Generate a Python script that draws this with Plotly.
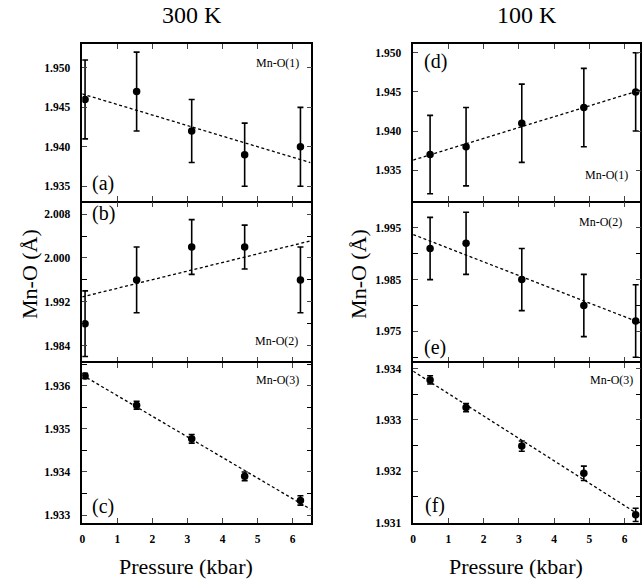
import plotly.graph_objects as go

W, H = 642, 584

# ---------------- data ----------------
pressure_300 = [0.08, 1.55, 3.12, 4.63, 6.22]
pressure_100 = [0.48, 1.50, 3.08, 4.84, 6.31]

mno1_300 = [1.946, 1.947, 1.942, 1.939, 1.940]
mno1_300_err = [0.005, 0.005, 0.004, 0.004, 0.005]
mno2_300 = [1.988, 1.996, 2.002, 2.002, 1.996]
mno2_300_err = [0.006, 0.006, 0.005, 0.004, 0.006]
mno3_300 = [1.93623, 1.93555, 1.93477, 1.93390, 1.93334]
mno3_300_err = [0.00006, 0.00009, 0.00010, 0.00010, 0.00011]

mno1_100 = [1.937, 1.938, 1.941, 1.943, 1.945]
mno1_100_err = [0.005, 0.005, 0.005, 0.005, 0.005]
mno2_100 = [1.991, 1.992, 1.985, 1.980, 1.977]
mno2_100_err = [0.006, 0.006, 0.006, 0.006, 0.007]
mno3_100 = [1.93378, 1.93324, 1.93249, 1.93196, 1.93115]
mno3_100_err = [0.00008, 0.00008, 0.00010, 0.00014, 0.00013]

# linear fits: values at fit_p endpoints
fit_p = [0.0, 6.5]
fit1_300 = [1.9467, 1.9380]
fit2_300 = [1.9929, 2.0031]
fit3_300 = [1.93625, 1.93314]
fit1_100 = [1.9363, 1.9453]
fit2_100 = [1.9937, 1.9765]
fit3_100 = [1.93395, 1.93111]

panel_letters = ["(a)", "(b)", "(c)", "(d)", "(e)", "(f)"]
bond_names = ["Mn-O(1)", "Mn-O(2)", "Mn-O(3)", "Mn-O(1)", "Mn-O(2)", "Mn-O(3)"]
column_titles = ["300 K", "100 K"]
x_title = "Pressure (kbar)"
y_title = "Mn-O (Å)"

# ---------------- layout helpers ----------------
FONT = "Liberation Serif"
LW = 1.5

def px_x(x):
    return x / W

def px_y(y):
    return 1 - y / H

panels = [
    (pressure_300, mno1_300, mno1_300_err, fit1_300, [1.9331, 1.9530], 0.005, None, 1.935),
    (pressure_300, mno2_300, mno2_300_err, fit2_300, [1.9811, 2.0101], 0.008, 0.004, 1.984),
    (pressure_300, mno3_300, mno3_300_err, fit3_300, [1.93282, 1.93653], 0.001, 0.0005, 1.933),
    (pressure_100, mno1_100, mno1_100_err, fit1_100, [1.93105, 1.95108], 0.005, None, 1.935),
    (pressure_100, mno2_100, mno2_100_err, fit2_100, [1.96919, 1.99985], 0.010, 0.005, 1.975),
    (pressure_100, mno3_100, mno3_100_err, fit3_100, [1.930995, 1.93411], 0.001, 0.0005, 1.931),
]

xdom_px = [(79, 311), (412, 642)]
xrange_cols = [[0, 6.53], [0, 6.44]]
# frame-line centres at 44, 204, 366, 529; axis lines are drawn outside the domain
g = LW / 2
ydom_px = [(44 + g, 204 - g), (204 + g, 366 - g), (366 + g, 529 - g)]

fig = go.Figure()
layout = dict(
    width=W, height=H, autosize=False,
    margin=dict(l=0, r=0, t=0, b=0),
    paper_bgcolor="white", plot_bgcolor="white",
    showlegend=False,
    font=dict(family=FONT, color="black", size=12),
)

tick_font = dict(family=FONT, size=11.5, color="black", weight="bold")

for i, (px_, vals, errs, fit, yr, dt, mn, t0) in enumerate(panels):
    col = i // 3
    row = i % 3
    k = i + 1
    xa = "x" if k == 1 else f"x{k}"
    ya = "y" if k == 1 else f"y{k}"
    fig.add_trace(go.Scatter(
        x=fit_p, y=fit, mode="lines", xaxis=xa, yaxis=ya,
        line=dict(color="black", width=1.3, dash="3px,2.5px"),
        hoverinfo="skip",
    ))
    fig.add_trace(go.Scatter(
        x=px_, y=vals, mode="markers", xaxis=xa, yaxis=ya,
        marker=dict(color="black", size=7.5),
        error_y=dict(type="data", array=errs, visible=True, color="black",
                     thickness=1.6, width=3),
    ))
    x0, x1 = xdom_px[col]
    y0, y1 = ydom_px[row]
    xkey = "xaxis" if k == 1 else f"xaxis{k}"
    ykey = "yaxis" if k == 1 else f"yaxis{k}"
    layout[xkey] = dict(
        domain=[px_x(x0 + g), min(1.0, px_x(x1 - g))],
        anchor=ya, range=xrange_cols[col],
        dtick=1, tick0=0, ticks="inside", ticklen=5, tickwidth=1,
        showline=True, linecolor="black", linewidth=LW, mirror="ticks",
        showgrid=False, zeroline=False,
        showticklabels=(row == 2),
        tickfont=tick_font,
        ticklabelstandoff=5,
    )
    ydict = dict(
        domain=[px_y(y1), px_y(y0)],
        anchor=xa, range=yr,
        dtick=dt, tick0=t0, tickformat=".3f",
        ticks="inside", ticklen=5, tickwidth=1,
        showline=True, linecolor="black", linewidth=LW, mirror="ticks",
        showgrid=False, zeroline=False,
        tickfont=tick_font,
        ticklabelstandoff=8,
    )
    if mn is not None:
        ydict["minor"] = dict(dtick=mn, tick0=t0, ticks="inside", ticklen=5,
                              tickwidth=1, tickcolor="black", showgrid=False)
    layout[ykey] = ydict

annotations = []
def ann(text, x, y, size, **kw):
    d = dict(text=text, x=px_x(x), y=px_y(y), xref="paper", yref="paper",
             showarrow=False, xanchor="center", yanchor="middle",
             font=dict(family=FONT, size=size, color="black"))
    d.update(kw)
    annotations.append(d)

ann(column_titles[0], 190, 15, 24)
ann(column_titles[1], 527, 15, 24)
ann(x_title, 184, 572, 22)
ann(x_title, 516, 572, 22)
ann(y_title, 26, 277, 22, textangle=-90)
ann(y_title, 357, 277, 22, textangle=-90)

letter_pos = [(101, 185), (101, 216), (101, 512), (435, 62), (435, 351), (435, 511)]
bond_pos = [(276, 64), (275, 345), (276, 384), (607, 177), (601, 224), (612, 384)]
for t, (x, y) in zip(panel_letters, letter_pos):
    ann(t, x, y, 20)
for t, (x, y) in zip(bond_names, bond_pos):
    ann(t, x, y, 12)

layout["annotations"] = annotations
fig.update_layout(**layout)
fig.write_html(
    "out.html",
    config={"displayModeBar": False},
    post_script="document.body.style.margin='0';document.body.style.padding='0';",
)
